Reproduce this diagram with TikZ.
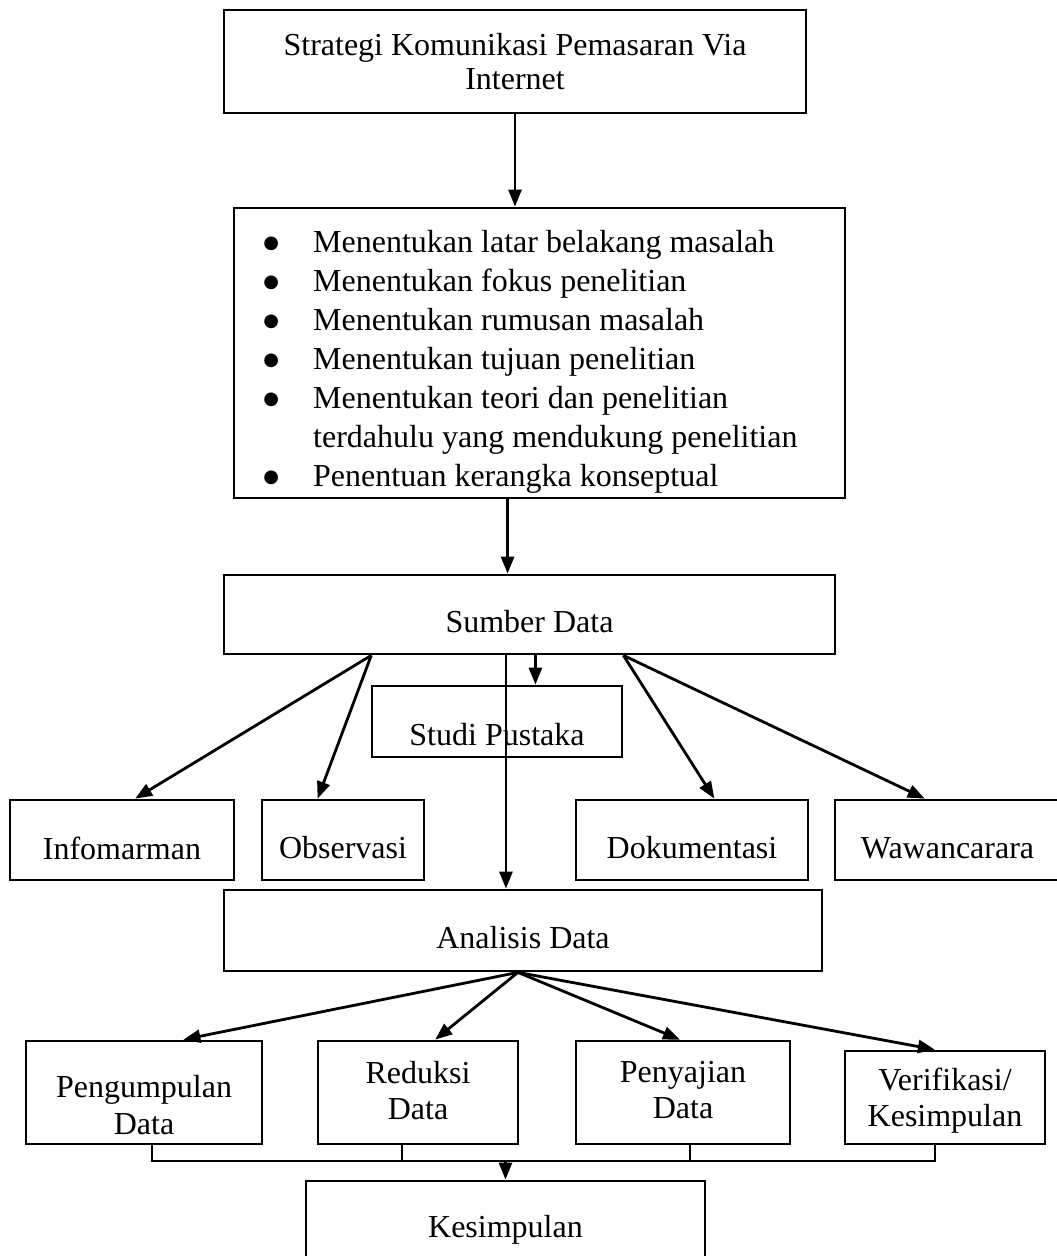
\documentclass[tikz,border=0pt]{standalone}
\usepackage{fontspec}
\setmainfont{Liberation Serif}
\newfontfamily\dej{DejaVu Sans}
\usetikzlibrary{arrows.meta,calc}
\newcommand{\bul}{\makebox[16pt]{\raisebox{4pt}{\dej\fontsize{18}{18}\selectfont ●}}}
\begin{document}
\begin{tikzpicture}[x=1pt,y=-1pt,
  bx/.style n args={2}{draw,line width=2.8pt,inner sep=0pt,minimum width=#1,minimum height=#2},
  txt/.style={inner sep=0pt,align=center,font=\fontsize{32}{36}\selectfont},
  arr/.style={line width=2.8pt,-{Triangle[length=17pt,width=13pt]}},
  ln/.style={line width=2pt}]
\useasboundingbox (0,0) rectangle (1057,1256);
\clip (0,0) rectangle (1057,1256);
% boxes
\node[bx={582}{103}] (b1) at (515,61.5) {};
\node[bx={611}{290}] (b2) at (539.5,353) {};
\node[bx={611}{79}]  (b3) at (529.5,614.5) {};
\node[bx={250}{71}]  (sp) at (497,721.5) {};
\node[bx={224}{80}]  (inf) at (122,840) {};
\node[bx={162}{80}]  (obs) at (343,840) {};
\node[bx={232}{80}]  (dok) at (692,840) {};
\node[bx={225}{80}]  (waw) at (947.5,840) {};
\node[bx={598}{81}]  (ana) at (523,930.5) {};
\node[bx={236}{103}] (pd) at (144,1092.5) {};
\node[bx={200}{103}] (rd) at (418,1092.5) {};
\node[bx={214}{103}] (pj) at (683,1092.5) {};
\node[bx={200}{93}]  (vk) at (945,1097.5) {};
\node[bx={399}{89}]  (kes) at (505.5,1225.5) {};
% texts
\node[txt,font=\fontsize{32}{34}\selectfont] (t1) at (515,62) {Strategi Komunikasi Pemasaran Via\\Internet};
\node[inner sep=0pt,anchor=west,font=\fontsize{32}{39}\selectfont] (t2) at (263,362)
 {\begin{tabular}{@{}l@{\hspace{34pt}}l@{}}
 \bul & Menentukan latar belakang masalah\\
 \bul & Menentukan fokus penelitian\\
 \bul & Menentukan rumusan masalah\\
 \bul & Menentukan tujuan penelitian\\
 \bul & Menentukan teori dan penelitian\\
  & terdahulu yang mendukung penelitian\\
 \bul & Penentuan kerangka konseptual
 \end{tabular}};
\node[txt] (t3) at ($(b3.center)+(0,7)$) {Sumber Data};
\node[txt] (tsp) at ($(sp.center)+(0,13)$) {Studi Pustaka};
\node[txt] (tinf) at ($(inf.center)+(0,8)$) {Infomarman};
\node[txt] (tobs) at ($(obs.center)+(0,8)$) {Observasi};
\node[txt] (tdok) at ($(dok.center)+(0,8)$) {Dokumentasi};
\node[txt] (twaw) at ($(waw.center)+(0,8)$) {Wawancarara};
\node[txt] (tana) at ($(ana.center)+(0,7)$) {Analisis Data};
\node[txt,font=\fontsize{32}{37}\selectfont] (tpd) at ($(pd.center)+(0,13)$) {Pengumpulan\\Data};
\node[txt] (trd) at ($(rd.center)+(0,-2)$) {Reduksi\\Data};
\node[txt] (tpj) at ($(pj.center)+(0,-2)$) {Penyajian\\Data};
\node[txt] (tvk) at ($(vk.center)+(0,3)$) {Verifikasi/\\Kesimpulan};
\node[txt] (tkes) at ($(kes.center)+(0,4)$) {Kesimpulan};
% connectors
\draw[arr] (b1.south) -- (b1.south |- b2.north);
\coordinate (s2) at ($(b2.south west)!0.448!(b2.south east)$);
\draw[arr] (s2) -- (s2 |- b3.north);
\coordinate (ssp) at ($(sp.north west)!0.652!(sp.north east)$);
\draw[arr] (ssp |- b3.south) -- (ssp);
\coordinate (sana) at ($(ana.north west)!0.4716!(ana.north east)$);
\draw[arr] (sana |- b3.south) -- (sana);
\coordinate (bl) at ($(b3.south west)!0.2422!(b3.south east)$);
\coordinate (br) at ($(b3.south west)!0.653!(b3.south east)$);
\draw[arr] (bl) -- ($(inf.north west)!0.558!(inf.north east)$);
\draw[arr] (bl) -- ($(obs.north west)!0.346!(obs.north east)$);
\draw[arr] (br) -- ($(dok.north west)!0.595!(dok.north east)$);
\draw[arr] (br) -- ($(waw.north west)!0.4!(waw.north east)$);
\coordinate (as) at ($(ana.south west)!0.4916!(ana.south east)$);
\draw[arr] (as) -- ($(pd.north west)!0.665!(pd.north east)$);
\draw[arr] (as) -- ($(rd.north west)!0.585!(rd.north east)$);
\draw[arr] (as) -- ($(pj.north west)!0.486!(pj.north east)$);
\draw[arr] (as) -- ($(vk.north west)!0.45!(vk.north east)$);
% bracket to Kesimpulan
\coordinate (j) at ($(kes.north)+(0,-19)$);
\coordinate (qpd) at ($(pd.south west)!0.534!(pd.south east)$);
\coordinate (qrd) at ($(rd.south west)!0.42!(rd.south east)$);
\coordinate (qpj) at ($(pj.south west)!0.533!(pj.south east)$);
\coordinate (qvk) at ($(vk.south west)!0.45!(vk.south east)$);
\draw[ln] (qpd) -- (qpd |- j) -- (qvk |- j) -- (qvk);
\draw[ln] (qrd) -- (qrd |- j);
\draw[ln] (qpj) -- (qpj |- j);
\draw[arr] (j) -- (kes.north);
\end{tikzpicture}
\end{document}
